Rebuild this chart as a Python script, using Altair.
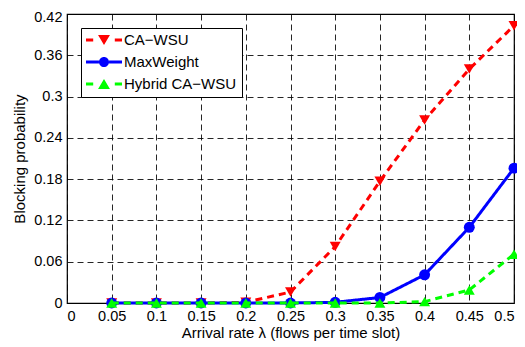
import altair as alt
import pandas as pd

# ---- data ----
arrival_rate = [0.05, 0.1, 0.15, 0.2, 0.25, 0.3, 0.35, 0.4, 0.45, 0.5]
ca_wsu = [0.0, 0.0, 0.0, 0.001, 0.016, 0.082, 0.177, 0.266, 0.340, 0.403]
maxweight = [0.0, 0.0, 0.0, 0.0, 0.0, 0.001, 0.008, 0.041, 0.110, 0.196]
hybrid = [0.0, 0.0, 0.0, 0.0, 0.0, 0.0, 0.0, 0.002, 0.019, 0.071]
series_names = ["CA\u2212WSU", "MaxWeight", "Hybrid CA\u2212WSU"]
x_ticks = [0, 0.05, 0.1, 0.15, 0.2, 0.25, 0.3, 0.35, 0.4, 0.45, 0.5]
y_ticks = [0, 0.06, 0.12, 0.18, 0.24, 0.3, 0.36, 0.42]

colors = ["#ff0000", "#0000ff", "#00ff00"]
shapes = ["triangle-down", "circle", "triangle-up"]
dashes = [[7, 5], [1, 0], [7, 5]]
legend_paths = [
    "M-1,-0.083H-0.6V0.083H-1Z M0.6,-0.083H1V0.083H0.6Z M-0.33,-0.28H0.33L0,0.28Z",
    "M-1,-0.083H-0.28V0.083H-1Z M0.28,-0.083H1V0.083H0.28Z "
    "M-0.28,0A0.28,0.28 0 1,1 0.28,0A0.28,0.28 0 1,1 -0.28,0Z",
    "M-1,-0.083H-0.6V0.083H-1Z M0.6,-0.083H1V0.083H0.6Z M0,-0.28L0.33,0.28H-0.33Z",
]

rows = []
for name, vals in zip(series_names, [ca_wsu, maxweight, hybrid]):
    for xv, yv in zip(arrival_rate, vals):
        rows.append({"series": name, "x": xv, "y": yv})
df = pd.DataFrame(rows)

FONT = "Liberation Sans"

x_enc = alt.X(
    "x:Q",
    scale=alt.Scale(domain=[0, 0.5], nice=False, zero=False),
    axis=alt.Axis(values=x_ticks, format="~g", title="Arrival rate \u03bb (flows per time slot)",
                  labelPadding=6, titlePadding=3),
)
y_enc = alt.Y(
    "y:Q",
    scale=alt.Scale(domain=[0, 0.42], nice=False),
    axis=alt.Axis(values=y_ticks, format="~g", title="Blocking probability",
                  labelPadding=5, titlePadding=6,
                  labelOffset={"condition": {"test": "datum.value >= 0.419", "value": 3},
                               "value": 0}),
)
color_scale = alt.Scale(domain=series_names, range=colors)
shape_scale = alt.Scale(domain=series_names, range=shapes)
dash_scale = alt.Scale(domain=series_names, range=dashes)

base = alt.Chart(df)
layers = []
for name in series_names:
    sub = base.transform_filter(alt.datum.series == name)
    layers.append(
        sub.mark_line(strokeWidth=3, clip=False).encode(
            x=x_enc, y=y_enc,
            color=alt.Color("series:N", scale=color_scale, legend=None),
            strokeDash=alt.StrokeDash("series:N", scale=dash_scale, legend=None),
        )
    )
    layers.append(
        sub.mark_point(filled=True, opacity=1, size=120).encode(
            x=x_enc, y=y_enc,
            color=alt.Color("series:N", scale=color_scale, legend=None),
            shape=alt.Shape("series:N", scale=shape_scale, legend=None),
        )
    )

legend_spec = alt.Legend(
    title=None, orient="none", legendX=14, legendY=14,
    strokeColor="black", fillColor="white", padding=5, cornerRadius=0,
    labelFont=FONT, labelFontSize=15, labelColor="black", labelOffset=2,
    symbolSize=1296, symbolStrokeWidth=0, clipHeight=14, rowPadding=7,
)
legend_layer = base.transform_filter("false").mark_point(filled=True, opacity=1).encode(
    color=alt.Color("series:N", scale=alt.Scale(domain=series_names, range=colors),
                    legend=legend_spec),
    shape=alt.Shape("series:N", scale=alt.Scale(domain=series_names, range=legend_paths),
                    legend=legend_spec),
)

chart = (
    alt.layer(*layers, legend_layer)
    .resolve_scale(shape="independent", color="independent")
    .properties(
        width=447, height=289,
        autosize=alt.AutoSizeParams(type="none"),
        padding={"left": 59, "top": 6, "right": 3, "bottom": 38},
        background="white",
    )
    .configure_view(stroke="black", strokeWidth=1.2)
    .configure_axis(
        grid=True, gridColor="black", gridDash=[6, 4], gridWidth=1, gridOpacity=0.85,
        domain=False, ticks=False,
        labelFont=FONT, labelFontSize=14.5, labelColor="black",
        titleFont=FONT, titleFontSize=15, titleColor="black", titleFontWeight="normal",
    )
)

chart.save("out.html", embed_options={"renderer": "svg", "actions": False})
